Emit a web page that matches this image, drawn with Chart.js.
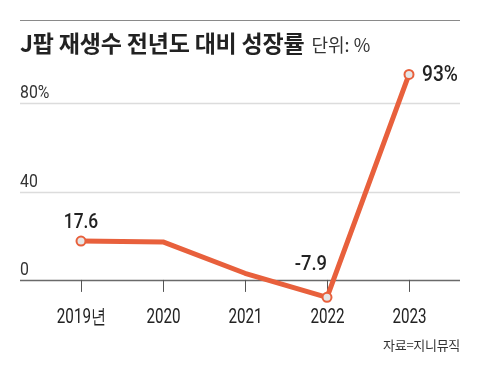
<!DOCTYPE html>
<html>
<head>
<meta charset="utf-8">
<script src="https://cdn.jsdelivr.net/npm/chart.js@4.4.1/dist/chart.umd.min.js"></script>
<style>
  body { margin:0; background:#fff; width:480px; height:370px; overflow:hidden; position:relative; }
  #rule { position:absolute; left:20px; top:20px; width:440px; height:1px; background:#8a8a8a; }
  #title { position:absolute; left:20px; top:25px; font-family:"Noto Sans CJK KR", sans-serif; font-weight:700; font-size:23px; color:#222; letter-spacing:-0.2px; white-space:nowrap; }
  #title span { font-weight:400; font-size:18px; color:#333; letter-spacing:0; margin-left:2px; }
  #source { position:absolute; right:20px; top:335px; font-family:"Noto Sans CJK KR", sans-serif; font-size:13px; color:#333; letter-spacing:-0.3px; }
  canvas { position:absolute; left:0; top:0; }
</style>
</head>
<body>
<canvas id="growthChart" width="480" height="370"></canvas>
<div id="rule"></div>
<div id="title">J팝 재생수 전년도 대비 성장률 <span>단위: %</span></div>
<div id="source">자료=지니뮤직</div>
<script>
const years = ['2019년', '2020', '2021', '2022', '2023'];
const growth = [17.6, 17.2, 3.0, -7.9, 93];
const yTicks = [0, 40, 80];
const yTickLabels = ['0', '40', '80%'];
const valueLabels = ['17.6', null, null, '-7.9', '93%'];

const LINE_COLOR = '#e8603c';
const NUM_FONT = '"Roboto", sans-serif';

// narrow text: squeeze horizontally so it looks like a condensed face
function narrowText(ctx, text, x, y, align, sx){
  ctx.save();
  ctx.translate(x, y);
  ctx.scale(sx, 1);
  ctx.textAlign = align;
  ctx.fillText(text, 0, 0);
  ctx.restore();
}

const axisPlugin = {
  id: 'axisPlugin',
  beforeDatasetsDraw(chart){
    const ctx = chart.ctx;
    const x = chart.scales.x;
    const y = chart.scales.y;
    ctx.save();
    ctx.textBaseline = 'alphabetic';
    for(let i = 0; i < yTicks.length; i++){
      const py = Math.round(y.getPixelForValue(yTicks[i])) + 0.5;
      ctx.beginPath();
      ctx.moveTo(20, py);
      ctx.lineTo(460, py);
      ctx.strokeStyle = yTicks[i] === 0 ? '#6a6a6a' : '#dcdcdc';
      ctx.lineWidth = 1.5;
      ctx.stroke();
      ctx.fillStyle = '#333';
      ctx.font = '18px ' + NUM_FONT;
      narrowText(ctx, yTickLabels[i], 20, py - 6, 'left', 0.88);
    }
    const y0 = y.getPixelForValue(0);
    ctx.strokeStyle = '#555';
    ctx.lineWidth = 1;
    ctx.fillStyle = '#222';
    ctx.font = '20px ' + NUM_FONT;
    for(let i = 0; i < years.length; i++){
      const px = Math.round(x.getPixelForValue(i)) + 0.5;
      ctx.beginPath();
      ctx.moveTo(px, y0);
      ctx.lineTo(px, y0 + 12);
      ctx.stroke();
      narrowText(ctx, years[i], px, y0 + 43, 'center', 0.76);
    }
    ctx.restore();
  },
  afterDatasetsDraw(chart){
    const ctx = chart.ctx;
    const x = chart.scales.x;
    const y = chart.scales.y;
    ctx.save();
    ctx.fillStyle = '#222';
    ctx.textBaseline = 'alphabetic';
    ctx.font = '500 20px ' + NUM_FONT;
    // value callouts
    let px = x.getPixelForValue(0), py = y.getPixelForValue(growth[0]);
    narrowText(ctx, valueLabels[0], px, py - 13, 'center', 0.87);
    px = x.getPixelForValue(3); py = y.getPixelForValue(growth[3]);
    narrowText(ctx, valueLabels[3], px, py - 27, 'right', 0.92);
    px = x.getPixelForValue(4); py = y.getPixelForValue(growth[4]);
    ctx.font = '500 22px ' + NUM_FONT;
    narrowText(ctx, valueLabels[4], px + 13, py + 7, 'left', 0.87);
    ctx.restore();
  }
};

const ctx = document.getElementById('growthChart').getContext('2d');
const chart = new Chart(ctx, {
  type: 'line',
  data: {
    labels: years,
    datasets: [{
      data: growth,
      borderColor: LINE_COLOR,
      borderWidth: 5,
      borderJoinStyle: 'round',
      tension: 0,
      pointRadius: [4.5, 0, 0, 4.5, 4.5],
      pointBackgroundColor: '#e6e6e6',
      pointBorderColor: LINE_COLOR,
      pointBorderWidth: 2,
      clip: false
    }]
  },
  options: {
    responsive: false,
    animation: false,
    layout: { padding: { left: 40, right: 30, top: 59, bottom: 68 } },
    plugins: { legend: { display: false }, tooltip: { enabled: false } },
    scales: {
      x: { display: false, offset: true },
      y: { display: false, min: -10, max: 100 }
    }
  },
  plugins: [axisPlugin]
});
</script>
</body>
</html>
